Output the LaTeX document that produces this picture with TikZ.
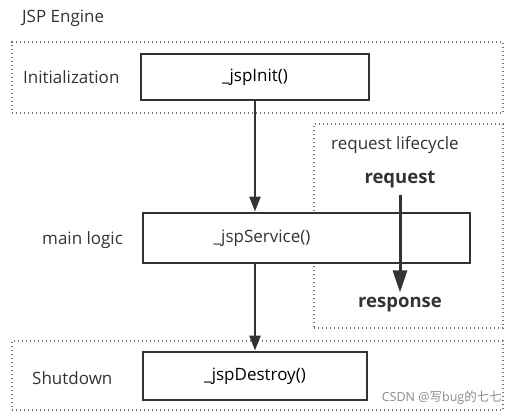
\documentclass[tikz,border=0pt]{standalone}
\usepackage{fontspec}
\setmainfont{Open Sans}
\newfontfamily\cjk{Noto Sans CJK SC}
\usepackage{tikz}
\usetikzlibrary{arrows.meta,positioning}

\begin{document}
\begin{tikzpicture}[x=1pt,y=-1pt,>={Triangle[length=15pt,width=11pt]},font=\fontsize{17}{19}\selectfont]
  \tikzstyle{group}=[draw=black!55,line width=1.8pt,dash pattern=on 1.4pt off 2.6pt,inner sep=0pt]
  \tikzstyle{phase}=[draw=black!80,line width=2.8pt,fill=white,inner sep=0pt]
  \tikzstyle{flow}=[->,draw=black!80,fill=black!80,line width=2.4pt]
  \tikzstyle{label}=[text=black!80,inner sep=0pt]

  \useasboundingbox (0,0) rectangle (517,416);

  \node[label,anchor=west] (engine) at (22,18) {JSP Engine};

  % dotted groups
  \node[group,minimum width=491pt,minimum height=71pt] (initgroup) at (257.5,77.5) {};
  \node[group,minimum width=189pt,minimum height=204pt] (cycle) at (408.5,226) {};
  \node[group,minimum width=491pt,minimum height=69pt] (downgroup) at (257.5,375.5) {};

  % phase labels
  \node[label,anchor=west] (initlabel) at (23,77) {Initialization};
  \node[label,anchor=west] (mainlabel) at (42,240) {main logic};
  \node[label,anchor=west] (downlabel) at (32,378) {Shutdown};
  \node[label,anchor=west] (cyclelabel) at (331,145) {request lifecycle};

  % phase boxes
  \node[phase,minimum width=228pt,minimum height=46pt] (init) at (255,77) {\_jspInit()};
  \node[phase,minimum width=327pt,minimum height=50pt] (service) at (306.5,238) {};
  \node[label] (servicetext) at (262,238) {\_jspService()};
  \node[phase,minimum width=224pt,minimum height=48pt] (destroy) at (255,376) {\_jspDestroy()};

  \node[label,font=\fontsize{18.5}{21}\selectfont\bfseries] (request) at (400,180) {request};
  \node[label,font=\fontsize{18.5}{21}\selectfont\bfseries] (response) at (400,305) {response};

  \draw[flow] (init.south) -- (init.south |- service.north);
  \draw[flow] (init.south |- service.south) -- (destroy.north);
  \draw[flow,line width=3pt,-{Triangle[length=22pt,width=14pt]}] ([yshift=-6pt]request.south) -- ([yshift=5pt]response.north);

  \node[anchor=east,text=black!45,inner sep=0pt,font=\fontsize{12.5}{14}\selectfont] (mark) at (502,398) {CSDN @{\cjk 写}bug{\cjk 的七七}};
\end{tikzpicture}
\end{document}
